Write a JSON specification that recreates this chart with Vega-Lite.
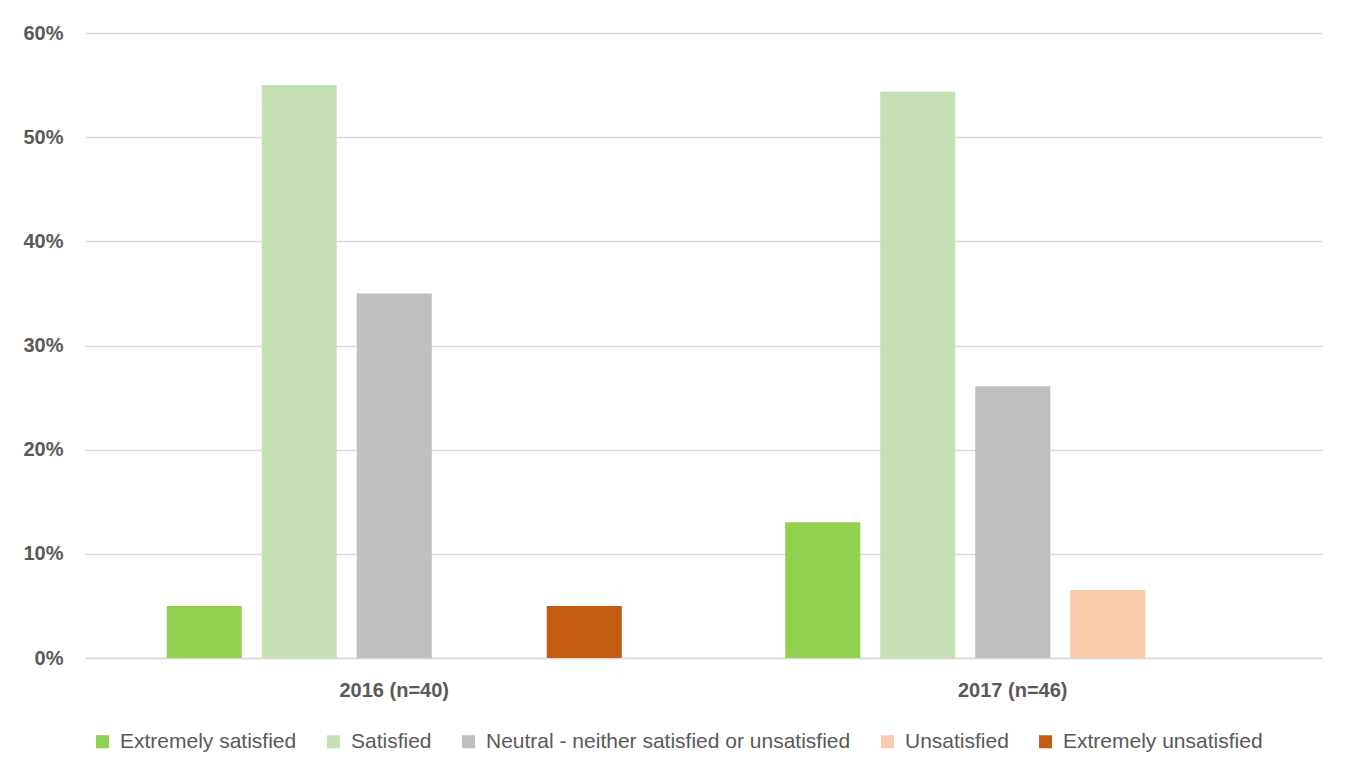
{
  "$schema": "https://vega.github.io/schema/vega-lite/v6.json",
  "width": 1237,
  "height": 625,
  "autosize": {"type": "none"},
  "padding": {"left": 85, "top": 33, "right": 30, "bottom": 123},
  "background": "white",
  "data": {
    "values": [
      {"year": "2016 (n=40)", "rating": "Extremely satisfied", "pct": 0.05},
      {"year": "2016 (n=40)", "rating": "Satisfied", "pct": 0.55},
      {"year": "2016 (n=40)", "rating": "Neutral - neither satisfied or unsatisfied", "pct": 0.35},
      {"year": "2016 (n=40)", "rating": "Unsatisfied", "pct": 0.0},
      {"year": "2016 (n=40)", "rating": "Extremely unsatisfied", "pct": 0.05},
      {"year": "2017 (n=46)", "rating": "Extremely satisfied", "pct": 0.1304},
      {"year": "2017 (n=46)", "rating": "Satisfied", "pct": 0.5435},
      {"year": "2017 (n=46)", "rating": "Neutral - neither satisfied or unsatisfied", "pct": 0.2609},
      {"year": "2017 (n=46)", "rating": "Unsatisfied", "pct": 0.0652},
      {"year": "2017 (n=46)", "rating": "Extremely unsatisfied", "pct": 0.0}
    ]
  },
  "mark": {"type": "bar"},
  "encoding": {
    "x": {
      "field": "year", "type": "nominal",
      "scale": {"paddingInner": 0.232, "paddingOuter": 0.116},
      "axis": {"title": null, "labelAngle": 0, "labelFont": "Liberation Sans", "labelFontSize": 20, "labelFontWeight": "bold", "labelColor": "#595959", "labelPadding": 22, "ticks": false, "domainColor": "#D9D9D9", "domainWidth": 1.5}
    },
    "xOffset": {
      "field": "rating", "type": "nominal",
      "sort": ["Extremely satisfied", "Satisfied", "Neutral - neither satisfied or unsatisfied", "Unsatisfied", "Extremely unsatisfied"],
      "scale": {"paddingInner": 0.21, "paddingOuter": 0.105}
    },
    "y": {
      "field": "pct", "type": "quantitative",
      "scale": {"domain": [0, 0.6], "nice": false},
      "axis": {"title": null, "format": ".0%", "values": [0, 0.1, 0.2, 0.3, 0.4, 0.5, 0.6], "labelFont": "Liberation Sans", "labelFontSize": 20, "labelFontWeight": "bold", "labelColor": "#595959", "labelPadding": 22, "ticks": false, "domain": false, "gridColor": "#D9D9D9", "gridWidth": 1.5}
    },
    "color": {
      "field": "rating", "type": "nominal",
      "sort": ["Extremely satisfied", "Satisfied", "Neutral - neither satisfied or unsatisfied", "Unsatisfied", "Extremely unsatisfied"],
      "scale": {
        "domain": ["Extremely satisfied", "Satisfied", "Neutral - neither satisfied or unsatisfied", "Unsatisfied", "Extremely unsatisfied"],
        "range": ["#92D050", "#C5E0B4", "#BFBFBF", "#F8CBAD", "#C55A11"]
      },
      "legend": {
        "title": null, "orient": "none", "direction": "horizontal",
        "legendX": 7, "legendY": 698,
        "symbolType": "square", "symbolSize": 170, "symbolStrokeWidth": 0,
        "labelFont": "Liberation Sans", "labelFontSize": 21, "labelColor": "#595959",
        "columnPadding": 26, "labelLimit": 600, "labelOffset": 7
      }
    }
  },
  "config": {"view": {"stroke": null}}
}
